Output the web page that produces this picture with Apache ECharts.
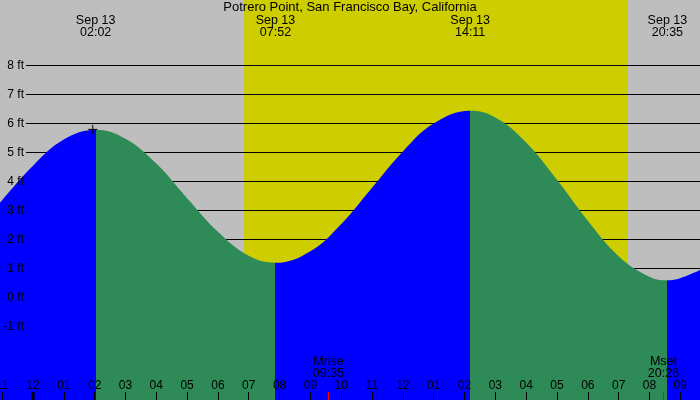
<!DOCTYPE html>
<html>
<head>
<meta charset="utf-8">
<script src="https://cdn.jsdelivr.net/npm/echarts@6/dist/echarts.min.js"></script>
<style>
    html, body {margin:0;padding:0;background:#bebebe;}
    #chart {width:700px;height:400px;}
</style>
</head>
<body>
<div id="chart"></div>
<script>
    // hours counted from midnight, Sep 13 ; heights in ft
    var tideHours = [-1.07, 0, 1, 2.03, 3, 4, 5, 6, 7, 7.87, 9, 10, 11, 12, 13, 14.18, 15, 16, 17, 18, 19, 20, 20.58, 21, 21.64];
    var tideFeet  = [3.26, 4.54, 5.44, 5.78, 5.47, 4.61, 3.42, 2.26, 1.43, 1.19, 1.59, 2.53, 3.78, 5.03, 5.99, 6.43, 6.20, 5.34, 4.05, 2.64, 1.42, 0.71, 0.59, 0.66, 0.94];

    // high / low tides
    var extremeHours  = [2.033, 7.867, 14.183, 20.583];
    var extremeLabels = ['02:02', '07:52', '14:11', '20:35'];
    var extremeDay = 'Sep 13';

    // sunrise / sunset, moonrise / moonset
    var sunHours   = [6.85, 19.30];
    var moonHours  = [9.583, 20.433];
    var moonNames  = ['Mrise', 'Mset'];
    var moonLabels = ['09:35', '20:26'];

    // bottom axis
    var hourTicks  = [-1, 0, 1, 2, 3, 4, 5, 6, 7, 8, 9, 10, 11, 12, 13, 14, 15, 16, 17, 18, 19, 20, 21];
    var hourLabels = ['11', '12', '01', '02', '03', '04', '05', '06', '07', '08', '09', '10',
                      '11', '12', '01', '02', '03', '04', '05', '06', '07', '08', '09'];

    var nowMark = [1.94, 5.79];

    var FONT = 'Liberation Sans, Arial, sans-serif';
    var RISE = '#0000ff', FALL = '#2e8b57';

    var tideData = tideHours.map(function (h, i) { return [h, tideFeet[i]]; });

    // rising before each high, falling before each low
    var pieces = [];
    var prev = null;
    extremeHours.forEach(function (h, i) {
        var p = {lt: h, color: i % 2 === 0 ? RISE : FALL};
        if (prev !== null) p.gte = prev;
        pieces.push(p);
        prev = h;
    });
    pieces.push({gte: prev, color: extremeHours.length % 2 === 0 ? RISE : FALL});

    var chart = echarts.init(document.getElementById('chart'));

    var option = {
        backgroundColor: '#bebebe',
        animation: false,
        title: {
            text: 'Potrero Point, San Francisco Bay, California',
            left: 'center',
            top: 1,
            padding: 0,
            textStyle: {fontFamily: FONT, fontSize: 13, fontWeight: 'normal', color: '#000'}
        },
        grid: [
            {left: 0, right: 0, top: 0, bottom: 0, outerBoundsMode: 'none', containLabel: false},
            {left: 26, right: 0, top: 65.3, height: 261, outerBoundsMode: 'none', containLabel: false}
        ],
        xAxis: [
            {
                type: 'value', gridIndex: 0, min: -1.07, max: 21.64, z: 6,
                position: 'bottom',
                axisLine: {show: false, onZero: false},
                splitLine: {show: false},
                axisTick: {inside: true, length: 8, customValues: hourTicks, lineStyle: {color: '#000', width: 1}},
                axisLabel: {
                    inside: true, margin: 8, customValues: hourTicks,
                    fontFamily: FONT, fontSize: 12, color: '#000',
                    formatter: function (v) { return hourLabels[hourTicks.indexOf(v)]; }
                }
            },
            {type: 'value', gridIndex: 1, min: 0, max: 1, show: false, axisLine: {onZero: false}}
        ],
        yAxis: [
            {type: 'value', gridIndex: 0, min: -3.541, max: 10.252, show: false, axisLine: {onZero: false}},
            {
                type: 'value', gridIndex: 1, min: -1, max: 8, interval: 1, z: 2,
                position: 'left',
                axisLine: {show: false, onZero: false}, axisTick: {show: false}, axisLabel: {show: false},
                splitLine: {show: true, lineStyle: {color: '#000', width: 1}}
            },
            {
                type: 'value', gridIndex: 1, min: -1, max: 8, interval: 1, z: 6,
                position: 'left', offset: 0,
                axisLine: {show: false, onZero: false}, axisTick: {show: false}, splitLine: {show: false},
                axisLabel: {margin: 2, fontFamily: FONT, fontSize: 12, color: '#000',
                    formatter: '{value} ft'}
            }
        ],
        visualMap: {
            type: 'piecewise', show: false, dimension: 0, seriesIndex: 1,
            pieces: pieces
        },
        series: [
            {
                type: 'custom', xAxisIndex: 0, yAxisIndex: 0, z: 1, silent: true,
                data: [[sunHours[0], sunHours[1]]],
                encode: {x: [0, 1]},
                renderItem: function (params, api) {
                    var a = api.coord([api.value(0), 0]);
                    var b = api.coord([api.value(1), 0]);
                    var cs = params.coordSys;
                    return {
                        type: 'rect',
                        shape: {x: a[0], y: cs.y, width: b[0] - a[0], height: cs.height},
                        style: {fill: '#cdcd00'}
                    };
                }
            },
            {
                type: 'line', xAxisIndex: 0, yAxisIndex: 0, z: 3, silent: true,
                data: tideData,
                smooth: 0.4,
                showSymbol: false,
                lineStyle: {width: 0},
                areaStyle: {opacity: 1, origin: 'start'}
            },
            {
                type: 'scatter', xAxisIndex: 0, yAxisIndex: 0, z: 5, silent: true,
                data: [nowMark],
                symbol: 'path://M4,0L4,8M0,4L8,4',
                symbolSize: 9,
                itemStyle: {color: 'transparent', borderColor: '#000', borderWidth: 1, opacity: 1}
            }
        ]
    };

    chart.setOption(option);

    // labels at the tide times, moon events and the midnight mark
    var graphics = [];
    extremeHours.forEach(function (h, i) {
        var x = chart.convertToPixel({xAxisIndex: 0}, h);
        graphics.push({
            type: 'text', x: x, y: 15, z: 10, silent: true,
            style: {text: extremeDay + '\n' + extremeLabels[i], fill: '#000',
                font: '12.5px ' + FONT, align: 'center', verticalAlign: 'top', lineHeight: 12}
        });
    });
    moonHours.forEach(function (h, i) {
        var x = Math.round(chart.convertToPixel({xAxisIndex: 0}, h)) + 0.5;
        graphics.push({
            type: 'text', x: x, y: 356, z: 10, silent: true,
            style: {text: moonNames[i] + '\n' + moonLabels[i], fill: '#000',
                font: '12.5px ' + FONT, align: 'center', verticalAlign: 'top', lineHeight: 12}
        });
        graphics.push({
            type: 'line', z: 10, silent: true,
            shape: {x1: x, y1: 392, x2: x, y2: 400},
            style: {stroke: '#ff0000', lineWidth: 1}
        });
    });
    var mid = chart.convertToPixel({xAxisIndex: 0}, 0);
    graphics.push({
        type: 'rect', z: 10, silent: true,
        shape: {x: mid - 1.5, y: 392, width: 3, height: 8},
        style: {fill: '#000'}
    });
    chart.setOption({graphic: graphics});
</script>
</body>
</html>
